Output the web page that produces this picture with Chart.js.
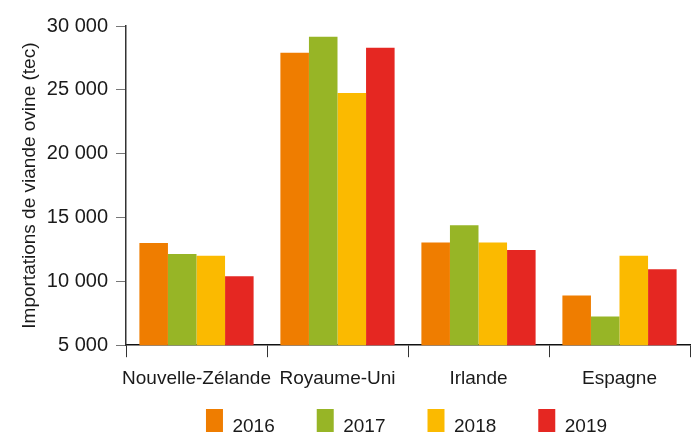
<!DOCTYPE html>
<html>
<head>
<meta charset="utf-8">
<script src="https://cdn.jsdelivr.net/npm/chart.js@4"></script>
<style>
  html, body { margin: 0; padding: 0; background: #fff; overflow: hidden; }
  #wrap { width: 700px; height: 493px; }
</style>
</head>
<body>
<div id="wrap"><canvas id="chart"></canvas></div>
<script>
// pays importateurs
const categories = ['Nouvelle-Zélande', 'Royaume-Uni', 'Irlande', 'Espagne'];
const years = ['2016', '2017', '2018', '2019'];

// importations de viande ovine (tec)
const values2016 = [13000, 27900, 13050, 8900];
const values2017 = [12150, 29150, 14400, 7250];
const values2018 = [12000, 24750, 13050, 12000];
const values2019 = [10400, 28300, 12450, 10950];

const yTicks = [5000, 10000, 15000, 20000, 25000, 30000];

const colors = ['#EF7D00', '#97B526', '#FBBA00', '#E52722'];
const series = [values2016, values2017, values2018, values2019];

Chart.defaults.font.family = '"Liberation Sans", Arial, sans-serif';
Chart.defaults.color = '#1a1a1a';

// legend sits centred under the plot area and close to the axis labels
const moveLegend = {
  id: 'moveLegend',
  afterLayout(chart) {
    if (!chart.legend) return;
    chart.legend.left = 123;
    chart.legend.top = 367;
  },
};

const ctx = document.getElementById('chart').getContext('2d');
new Chart(ctx, {
  type: 'bar',
  data: {
    labels: categories,
    datasets: years.map((y, i) => ({
      label: y,
      data: series[i],
      backgroundColor: colors[i],
      borderWidth: 0,
      categoryPercentage: 0.81,
      barPercentage: 1.0,
    })),
  },
  plugins: [moveLegend],
  options: {
    responsive: true,
    maintainAspectRatio: false,
    animation: false,
    layout: { padding: { top: 26, right: 10, left: 0, bottom: 5 } },
    plugins: {
      tooltip: { enabled: false },
      legend: {
        position: 'bottom',
        align: 'center',
        labels: {
          boxWidth: 17,
          boxHeight: 36,
          padding: 42,
          font: { size: 19 },
          color: '#1a1a1a',
        },
      },
    },
    scales: {
      x: {
        grid: {
          offset: true,
          drawOnChartArea: false,
          tickLength: 12,
          color: '#333',
        },
        border: { color: '#111', width: 1.5 },
        ticks: { font: { size: 19 }, padding: 10, maxRotation: 0, autoSkip: false },
      },
      y: {
        min: 5000,
        max: 30000,
        afterBuildTicks: (axis) => { axis.ticks = yTicks.map(v => ({ value: v })); },
        afterFit: (axis) => { axis.width = 126; },
        grid: {
          drawOnChartArea: false,
          tickLength: 10,
          color: '#777',
        },
        border: { color: '#333', width: 1.5 },
        ticks: {
          font: { size: 20 },
          padding: 8,
          callback: (v) => v.toLocaleString('fr-FR').replace(/\s/g, ' '),
        },
        title: {
          display: true,
          text: 'Importations de viande ovine (tec)',
          font: { size: 19 },
          padding: { top: 18, bottom: 0 },
        },
      },
    },
  },
});
</script>
</body>
</html>
